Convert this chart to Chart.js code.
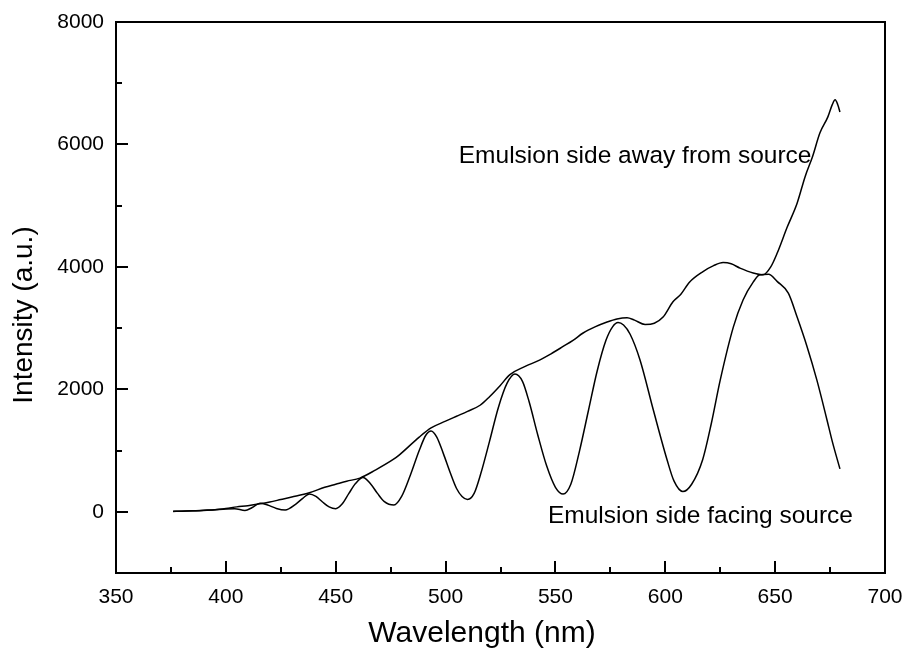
<!DOCTYPE html>
<html>
<head>
<meta charset="utf-8">
<title>Intensity vs wavelength</title>
<script src="https://cdn.jsdelivr.net/npm/chart.js@4"></script>
<style>
  html, body { margin: 0; padding: 0; background: #fff; }
  #grafico { display: block; }
</style>
</head>
<body>
<canvas id="grafico" width="905" height="654"></canvas>
<script>
// valores
const wlAway = [376, 380, 385, 390, 395, 400, 405, 410, 415.5, 420, 425, 430, 438, 445, 450, 455, 461, 468, 476, 479, 488, 493.4, 500, 505, 510, 515.7, 520, 524.8, 529.3, 536, 543, 548, 553.5, 558, 562.6, 568, 573.5, 578, 582.6, 586, 590.8, 595, 599, 603.5, 607, 611, 617, 622, 626.3, 630, 634, 640, 644.5, 648, 651, 655.5, 660, 663.6, 667, 670.4, 674, 676, 677.3, 678.5, 679.5];
const awayValues = [5, 10, 15, 25, 35, 55, 80, 100, 130, 160, 200, 240, 310, 400, 450, 500, 550, 680, 850, 930, 1220, 1370, 1480, 1560, 1640, 1740, 1880, 2060, 2240, 2370, 2480, 2580, 2700, 2800, 2920, 3020, 3100, 3150, 3170, 3130, 3060, 3080, 3180, 3430, 3550, 3750, 3920, 4020, 4070, 4050, 3980, 3900, 3870, 4000, 4230, 4650, 5040, 5470, 5800, 6190, 6450, 6650, 6730, 6650, 6530];

const wlFacing = [376, 382, 388, 394, 400, 404, 408.7, 412, 415.5, 419, 423, 427, 432, 435, 438, 441, 444, 447, 450, 453, 456, 459, 462.4, 466, 469, 472, 476.5, 480, 484, 488, 491, 493.4, 496, 499, 502, 505, 507.5, 510, 513, 516, 520, 524, 528, 531.6, 535, 538, 542, 546, 550, 553.5, 557, 561, 565, 569, 573, 576, 578.5, 581, 584, 588.5, 594.5, 600.8, 604, 608, 612, 617, 621, 625, 631, 635.4, 640, 643, 647, 651, 656, 660, 664.5, 669, 673.6, 676, 679.5];
const facingValues = [10, 12, 18, 28, 45, 50, 22, 70, 140, 110, 55, 30, 130, 220, 290, 250, 160, 80, 50, 130, 300, 460, 560, 450, 300, 170, 110, 250, 600, 1000, 1250, 1320, 1220, 950, 650, 380, 250, 200, 300, 620, 1150, 1700, 2100, 2250, 2130, 1800, 1250, 750, 400, 290, 450, 1000, 1650, 2300, 2800, 3020, 3090, 3050, 2900, 2480, 1670, 850, 500, 330, 450, 850, 1450, 2150, 3020, 3460, 3750, 3870, 3880, 3760, 3570, 3180, 2700, 2150, 1500, 1150, 700];

const xTicks = [350, 400, 450, 500, 550, 600, 650, 700];
const yTicks = [0, 2000, 4000, 6000, 8000];

const fuente = "'Liberation Sans', Arial, sans-serif";

const marcoYTextos = {
  id: 'marcoYTextos',
  afterDraw(chart) {
    const { ctx, chartArea: a, scales: { x, y } } = chart;
    ctx.save();
    ctx.strokeStyle = '#000';
    ctx.lineWidth = 2;
    ctx.strokeRect(a.left, a.top, a.right - a.left, a.bottom - a.top);

    // marcas hacia dentro
    ctx.beginPath();
    for (let v = 375; v < 700; v += 25) {
      const px = Math.round(x.getPixelForValue(v));
      const len = v % 50 === 0 ? 12 : 6;
      ctx.moveTo(px, a.bottom);
      ctx.lineTo(px, a.bottom - len);
    }
    for (let v = 0; v < 8000; v += 1000) {
      const py = Math.round(y.getPixelForValue(v));
      const len = v % 2000 === 0 ? 12 : 6;
      ctx.moveTo(a.left, py);
      ctx.lineTo(a.left + len, py);
    }
    ctx.stroke();

    ctx.fillStyle = '#000';
    ctx.font = '24.5px ' + fuente;
    ctx.textBaseline = 'middle';
    ctx.textAlign = 'left';
    ctx.fillText('Emulsion side away from source', x.getPixelForValue(506), y.getPixelForValue(5800));
    ctx.fillText('Emulsion side facing source', x.getPixelForValue(546.6), y.getPixelForValue(-80));

    ctx.textAlign = 'center';
    ctx.font = '30px ' + fuente;
    ctx.fillText('Wavelength (nm)', 482, 634);
    ctx.translate(24, 315);
    ctx.rotate(-Math.PI / 2);
    ctx.font = '28px ' + fuente;
    ctx.fillText('Intensity (a.u.)', 0, 0);
    ctx.restore();
  }
};

new Chart(document.getElementById('grafico'), {
  type: 'line',
  data: {
    datasets: [
      {
        label: 'Emulsion side away from source',
        data: wlAway.map((w, i) => ({ x: w, y: awayValues[i] })),
        borderColor: '#000',
        borderWidth: 1.5,
        pointRadius: 0,
        cubicInterpolationMode: 'monotone'
      },
      {
        label: 'Emulsion side facing source',
        data: wlFacing.map((w, i) => ({ x: w, y: facingValues[i] })),
        borderColor: '#000',
        borderWidth: 1.5,
        pointRadius: 0,
        cubicInterpolationMode: 'monotone'
      }
    ]
  },
  options: {
    responsive: false,
    animation: false,
    layout: { padding: { top: 22, right: 20, left: 0, bottom: 0 } },
    plugins: {
      legend: { display: false },
      tooltip: { enabled: false }
    },
    scales: {
      x: {
        type: 'linear',
        min: 350,
        max: 700,
        afterBuildTicks: s => { s.ticks = xTicks.map(v => ({ value: v })); },
        afterFit: s => { s.height = 81; s.paddingLeft = 0; s.paddingRight = 0; },
        grid: { display: false },
        border: { display: false },
        ticks: { color: '#000', font: { size: 21, family: fuente }, padding: 4, maxRotation: 0, callback: v => String(v) }
      },
      y: {
        min: -1000,
        max: 8000,
        afterBuildTicks: s => { s.ticks = yTicks.map(v => ({ value: v })); },
        afterFit: s => { s.width = 116; s.paddingTop = 0; s.paddingBottom = 0; },
        grid: { display: false },
        border: { display: false },
        ticks: { color: '#000', font: { size: 21, family: fuente }, padding: 4, callback: v => String(v) }
      }
    }
  },
  plugins: [marcoYTextos]
});
</script>
</body>
</html>
